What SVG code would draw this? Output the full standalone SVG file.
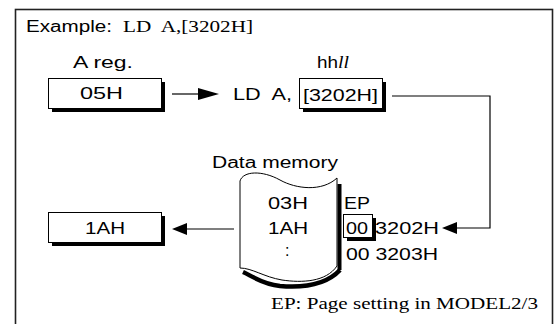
<svg xmlns="http://www.w3.org/2000/svg" width="556" height="324" viewBox="0 0 556 324">
<style>
.s{font-family:"Liberation Sans",Arial,sans-serif;font-size:16px;fill:#000;white-space:pre}
.r{font-family:"Liberation Serif","Times New Roman",serif;font-size:17px;fill:#000;white-space:pre}
.box{fill:#fff;stroke:#000;stroke-width:1}
.sh{fill:#000}
.ln{fill:none;stroke:#000;stroke-width:1.2}
.ah{fill:#000}
</style>
<rect x="15.5" y="9.5" width="537" height="330" fill="#fff" stroke="#222" stroke-width="1.6"/>
<g id="title">
<text class="s" x="26" y="32" font-size="18" textLength="86" lengthAdjust="spacingAndGlyphs">Example:</text>
<text class="r" x="123" y="32" font-size="18" textLength="130" lengthAdjust="spacingAndGlyphs">LD  A,[3202H]</text>
</g>
<g id="areg">
<text class="s" x="73" y="68" textLength="60" lengthAdjust="spacingAndGlyphs">A reg.</text>
<rect class="sh" x="52" y="82" width="113" height="30"/>
<rect class="box" x="48.5" y="78.5" width="113" height="30"/>
<text class="s" x="80" y="99" textLength="43" lengthAdjust="spacingAndGlyphs">05H</text>
</g>
<g id="instr">
<text class="s" x="233" y="100" textLength="59" lengthAdjust="spacingAndGlyphs">LD  A,</text>
<text class="s" x="317" y="68" textLength="21" lengthAdjust="spacingAndGlyphs">hh</text>
<text class="r" x="338" y="68" font-style="italic" font-size="18" textLength="11" lengthAdjust="spacingAndGlyphs">ll</text>
<rect class="sh" x="303" y="82" width="83" height="30"/>
<rect class="box" x="299.5" y="78.5" width="83" height="30"/>
<text class="s" x="303" y="101" textLength="75" lengthAdjust="spacingAndGlyphs">[3202H]</text>
</g>
<g id="memory">
<text class="s" x="212" y="168" textLength="126" lengthAdjust="spacingAndGlyphs">Data memory</text>
<path d="M339.5,184 L339.5,270" stroke="#000" stroke-width="4" fill="none"/>
<path d="M243,272 C252,276 262,284 280,286 C304,288 326,285 340,270" stroke="#000" stroke-width="4.5" fill="none"/>
<path class="box" d="M240,181 C243,171 262,170 280,180 C296,189 322,192 337,178 L337,266 C326,282 302,283 282,280 C264,277 252,268 240,268 Z"/>
<text class="s" x="268" y="209" textLength="40" lengthAdjust="spacingAndGlyphs">03H</text>
<text class="s" x="268" y="234" textLength="40" lengthAdjust="spacingAndGlyphs">1AH</text>
<text class="s" x="285" y="256">:</text>
</g>
<g id="ep">
<text class="s" x="344" y="209" textLength="26" lengthAdjust="spacingAndGlyphs">EP</text>
<rect class="sh" x="347" y="218" width="29" height="23"/>
<rect class="box" x="343.5" y="214.5" width="29" height="23"/>
<text class="s" x="346" y="234" textLength="22" lengthAdjust="spacingAndGlyphs">00</text>
<text class="s" x="375" y="234" textLength="64" lengthAdjust="spacingAndGlyphs">3202H</text>
<text class="s" x="346" y="260" textLength="92" lengthAdjust="spacingAndGlyphs">00 3203H</text>
</g>
<g id="result">
<rect class="sh" x="52" y="216" width="113" height="30"/>
<rect class="box" x="48.5" y="212.5" width="113" height="30"/>
<text class="s" x="85" y="234" textLength="40" lengthAdjust="spacingAndGlyphs">1AH</text>
</g>
<g id="note">
<text class="r" x="271" y="309" textLength="267" lengthAdjust="spacingAndGlyphs">EP: Page setting in MODEL2/3</text>
</g>
<g id="connectors">
<line class="ln" x1="172" y1="94" x2="200" y2="94"/>
<polygon class="ah" points="198,88 219,94 198,100"/>
<polyline class="ln" points="392,96 490,96 490,228 455,228"/>
<polygon class="ah" points="442,228 457,222 457,234"/>
<line class="ln" x1="234" y1="229" x2="185" y2="229"/>
<polygon class="ah" points="172,229 187,223 187,235"/>
</g>
</svg>
